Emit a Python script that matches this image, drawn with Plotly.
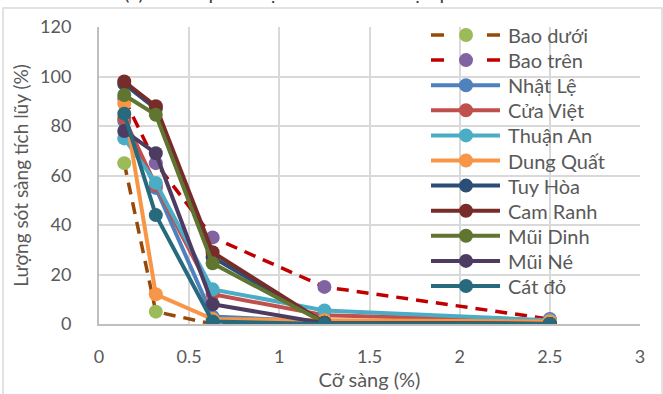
import plotly.graph_objects as go

# ---- data ----
sieve = [0.14, 0.315, 0.63, 1.25, 2.5]
names = ["Bao dưới", "Bao trên", "Nhật Lệ", "Cửa Việt", "Thuận An", "Dung Quất",
         "Tuy Hòa", "Cam Ranh", "Mũi Dinh", "Mũi Né", "Cát đỏ"]
bao_duoi  = [65, 5, 0, 0, 0]
bao_tren  = [91, 65, 35, 15, 2]
nhat_le   = [82, 55, 3, 1, 0.5]
cua_viet  = [83, 56, 12, 3.5, 1.2]
thuan_an  = [75, 57, 14, 5.5, 1.5]
dung_quat = [89, 12, 2, 1.5, 1]
tuy_hoa   = [97, 87, 27, 0.5, 0]
cam_ranh  = [98, 88, 29, 0.5, 0]
mui_dinh  = [92.5, 84.5, 24.5, 0.5, 0]
mui_ne    = [78, 69, 8, 0.3, 0]
cat_do    = [85, 44, 1, 0, 0]

series = [bao_duoi, bao_tren, nhat_le, cua_viet, thuan_an, dung_quat,
          tuy_hoa, cam_ranh, mui_dinh, mui_ne, cat_do]
line_colors = ["#984807", "#C00000", "#4F81BD", "#C0504D", "#4BACC6", "#F79646",
               "#2C4D75", "#772C2A", "#5F7530", "#4D3B62", "#276A7D"]
marker_colors = ["#9BBB59", "#8064A2", "#4F81BD", "#C0504D", "#4BACC6", "#F79646",
                 "#2C4D75", "#772C2A", "#5F7530", "#4D3B62", "#276A7D"]

FONT = "Lato"
GREY = "#595959"

fig = go.Figure()
for i, (nm, ys) in enumerate(zip(names, series)):
    fig.add_trace(go.Scatter(
        x=sieve, y=ys, name=nm, mode="lines+markers", showlegend=False,
        line=dict(color=line_colors[i], width=3.5 if i < 2 else 4,
                  dash="12px,8px" if i < 2 else "solid"),
        marker=dict(color=marker_colors[i], size=14, line=dict(width=0)),
    ))

# plot area pixels: x 99..640, y 27..324
L, R, T, B = 99, 23, 27, 70
W, H = 663 - L - R, 394 - T - B

def px(x):
    return (x - L) / W

def py(y):
    return (394 - B - y) / H

fig.update_layout(
    width=663, height=394,
    margin=dict(l=L, r=R, t=T, b=B),
    paper_bgcolor="white", plot_bgcolor="white",
    font=dict(family=FONT, color=GREY, size=18),
    showlegend=False,
    xaxis=dict(range=[0, 3], dtick=0.5, tick0=0, showgrid=True, gridcolor="#D9D9D9",
               gridwidth=2, zeroline=False, showline=True, linecolor="#BFBFBF", linewidth=2,
               ticks="", tickfont=dict(size=18, color=GREY), ticklabelstandoff=15,
               automargin=False,
               title=dict(text="Cỡ sàng (%)", font=dict(size=20, color=GREY), standoff=4)),
    yaxis=dict(range=[0, 120], dtick=20, showgrid=True, gridcolor="#D9D9D9", gridwidth=2,
               zeroline=False, showline=True, linecolor="#BFBFBF", linewidth=2,
               ticks="", tickfont=dict(size=18, color=GREY), ticklabelstandoff=22,
               automargin=False,
               title=dict(text="Lượng sót sàng tích lũy (%)", font=dict(size=19, color=GREY),
                          standoff=6)),
)

# legend drawn as shapes + texts (long symbol lines like the reference)
for i, nm in enumerate(names):
    yy = py(35 + 25.1 * i)
    dash = "13px,43px" if i < 2 else "solid"
    fig.add_shape(type="line", xref="paper", yref="paper", x0=px(431), x1=px(500), y0=yy, y1=yy,
                  line=dict(color=line_colors[i], width=3.5 if i < 2 else 4, dash=dash))
    fig.add_shape(type="circle", xref="paper", yref="paper",
                  x0=px(466 - 7), x1=px(466 + 7), y0=yy - 7 / H, y1=yy + 7 / H,
                  fillcolor=marker_colors[i], line=dict(width=0))
    fig.add_annotation(text=nm, xref="paper", yref="paper", x=px(506), y=yy,
                       xanchor="left", yanchor="middle", showarrow=False,
                       font=dict(size=20, color=GREY, family=FONT))

# cut-off chart title and chart border
fig.add_annotation(text="(a) Thành phần hạt cát biển khu vực phía bắc", xref="paper", yref="paper",
                   x=px(318), y=py(6), xanchor="center", yanchor="bottom", showarrow=False,
                   font=dict(size=20, color="#404040", family=FONT))
fig.add_shape(type="rect", xref="paper", yref="paper", x0=px(3), y0=py(8), x1=px(662), y1=py(420),
              line=dict(color="#D9D9D9", width=1.5), layer="below")

fig.write_html("out.html")
